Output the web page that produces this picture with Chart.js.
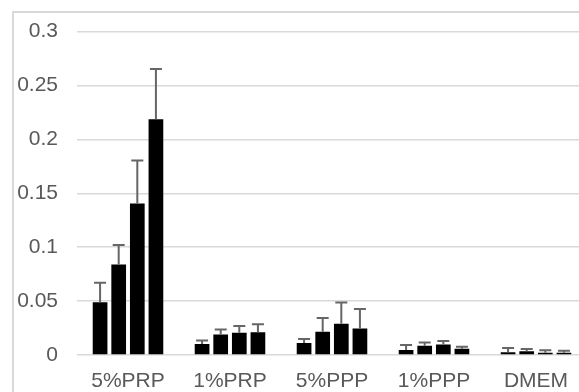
<!DOCTYPE html>
<html lang="en">
<head>
    <meta charset="UTF-8">
    <title>Bar chart with error bars</title>
    <script src="https://cdn.jsdelivr.net/npm/chart.js@4.4.1/dist/chart.umd.min.js"></script>
    <style>
        body { margin: 0; width: 579px; height: 392px; overflow: hidden; position: relative; background: #fff; }
        #frame { position: absolute; left: 12px; top: 11px; width: 700px; height: 500px;
                 border-left: 2px solid #d9d9d9; border-top: 2px solid #d9d9d9; }
        #chart { position: absolute; left: 0; top: 0; }
    </style>
</head>
<body>

    <div id="frame"></div>
    <!-- wider than the window: the plot runs past the right edge like the reference -->
    <canvas id="chart" width="600" height="392"></canvas>

    <script>

    const categories = ['5%PRP', '1%PRP', '5%PPP', '1%PPP', 'DMEM'];

    // bar heights, one array per series
    const series1 = [0.049, 0.0101, 0.0111, 0.0046, 0.0025];
    const series2 = [0.084, 0.019, 0.0215, 0.0086, 0.0034];
    const series3 = [0.1405, 0.0206, 0.029, 0.0098, 0.0021];
    const series4 = [0.2186, 0.0212, 0.0246, 0.0058, 0.002];

    // upper error (added on top of each bar)
    const error1 = [0.018, 0.0034, 0.0037, 0.0046, 0.004];
    const error2 = [0.018, 0.0046, 0.0129, 0.0031, 0.0021];
    const error3 = [0.040, 0.0064, 0.0197, 0.0031, 0.0022];
    const error4 = [0.0468, 0.0074, 0.0181, 0.0019, 0.002];

    const yTicks = [0, 0.05, 0.1, 0.15, 0.2, 0.25, 0.3];

    const allErrors = [error1, error2, error3, error4];

    // draws the upper error bar with a cap
    const errorBars = {
        id: 'errorBars',
        afterDatasetsDraw(chart) {
            const ctx = chart.ctx;
            const y = chart.scales.y;
            ctx.save();
            ctx.strokeStyle = '#666666';
            ctx.lineWidth = 2;
            chart.data.datasets.forEach((ds, i) => {
                const meta = chart.getDatasetMeta(i);
                meta.data.forEach((bar, j) => {
                    const top = y.getPixelForValue(ds.data[j] + allErrors[i][j]);
                    ctx.beginPath();
                    ctx.moveTo(bar.x, bar.y);
                    ctx.lineTo(bar.x, top);
                    ctx.moveTo(bar.x - 6, top);
                    ctx.lineTo(bar.x + 6, top);
                    ctx.stroke();
                });
            });
            ctx.restore();
        }
    };

    const barStyle = { backgroundColor: '#000000', borderWidth: 0, barPercentage: 0.79, categoryPercentage: 0.73 };

    const tickFont = { family: "'Liberation Sans', Arial, sans-serif", size: 21 };

    new Chart(document.getElementById('chart'), {
        type: 'bar',
        data: {
            labels: categories,
            datasets: [
                Object.assign({ label: 'Series 1', data: series1 }, barStyle),
                Object.assign({ label: 'Series 2', data: series2 }, barStyle),
                Object.assign({ label: 'Series 3', data: series3 }, barStyle),
                Object.assign({ label: 'Series 4', data: series4 }, barStyle)
            ]
        },
        options: {
            responsive: false,
            animation: false,
            layout: { padding: { left: 0, right: 13, top: 30, bottom: 0 } },
            plugins: { legend: { display: false }, tooltip: { enabled: false } },
            scales: {
                x: {
                    grid: { display: false },
                    border: { display: false },
                    ticks: { color: '#595959', font: tickFont, padding: 6 },
                    afterFit: (scale) => { scale.height = 37; }
                },
                y: {
                    min: 0,
                    max: 0.3,
                    afterBuildTicks: (scale) => { scale.ticks = yTicks.map(v => ({ value: v })); },
                    grid: { color: '#d9d9d9', lineWidth: 1.5, drawTicks: false },
                    border: { display: false },
                    ticks: {
                        color: '#595959',
                        font: tickFont,
                        padding: 19,
                        callback: (value) => String(value)
                    },
                    afterFit: (scale) => { scale.width = 77; }
                }
            }
        },
        plugins: [errorBars]
    });

    </script>

</body>
</html>
